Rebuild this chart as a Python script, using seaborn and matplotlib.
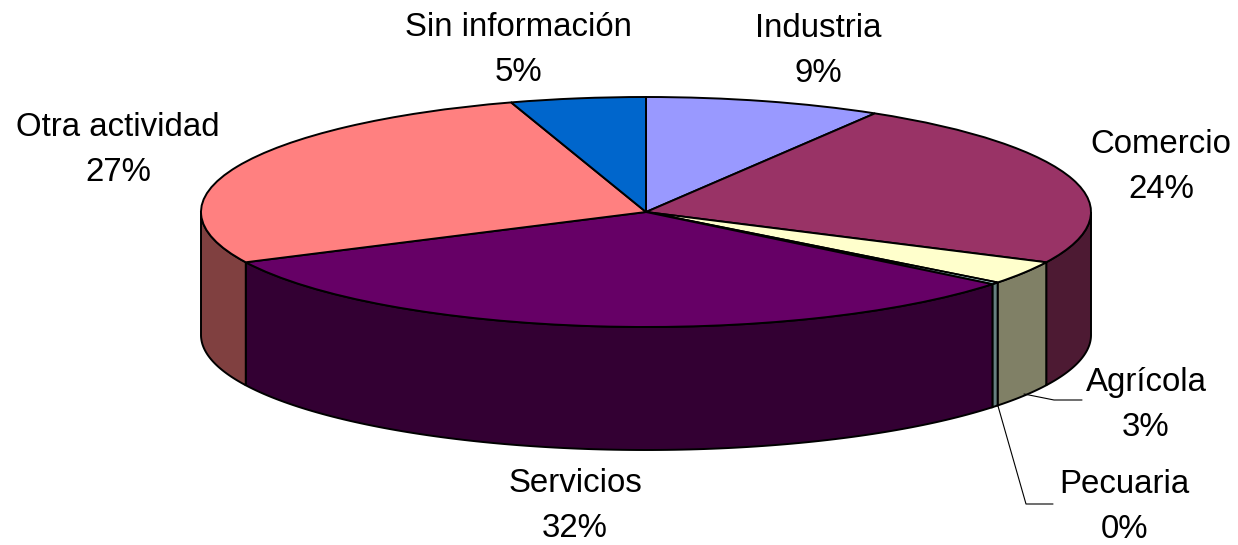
import numpy as np
import matplotlib
matplotlib.use("Agg")
import matplotlib.pyplot as plt
from matplotlib.transforms import Affine2D
import seaborn as sns

categories = ["Industria", "Comercio", "Agrícola", "Pecuaria", "Servicios", "Otra actividad", "Sin información"]
shares = [8.6, 23.6, 3.3, 0.3, 32.0, 27.3, 4.9]
top_colors = ["#9999FF", "#993366", "#FFFFCC", "#CCFFFF", "#660066", "#FF8080", "#0066CC"]

# layout, in reference pixels
W, H = 1238, 545
CX, CY, RX, RY, DEPTH = 646, 212, 445, 115, 123
label_xy = [(818, 51), (1161, 167), (1146, 405), (1124, 507), (575, 506), (118, 150), (518, 50)]
leaders = {"Agrícola": ([1024, 1054, 1082], [394, 400, 400]),
           "Pecuaria": ([998, 1026, 1053], [406, 504, 504])}

sns.set_theme(style="white", rc={"font.family": ["Liberation Sans", "DejaVu Sans"]})
palette = sns.color_palette(top_colors)
side_palette = [tuple(c * 0.5 for c in col) for col in palette]

fig = plt.figure(figsize=(W / 100, H / 100), dpi=100, facecolor="white")
ax = fig.add_axes([0, 0, 1, 1])

ax.pie(shares, colors=palette, startangle=90, counterclock=False, radius=1,
       wedgeprops=dict(edgecolor="black", linewidth=1.4))
ax.set_aspect("auto")
ax.set_xlim(-CX / RX, (W - CX) / RX)
ax.set_ylim((CY - H) / RY, CY / RY)
depth = DEPTH / RY

# side walls: visible on the front half only (90..270 deg clockwise from top)
edges = np.concatenate([[0], np.cumsum(shares)]) / np.sum(shares) * 360
for i, col in enumerate(side_palette):
    t0, t1 = max(edges[i], 90), min(edges[i + 1], 270)
    if t1 <= t0:
        continue
    t = np.radians(np.linspace(t0, t1, 120))
    x, y = np.sin(t), np.cos(t)
    ax.fill(np.r_[x, x[::-1]], np.r_[y, y[::-1] - depth], facecolor=col,
            edgecolor="black", linewidth=1.4, zorder=0.5)

px = Affine2D().scale(1, -1).translate(0, H)
for name, share, (lx, ly) in zip(categories, shares, label_xy):
    ax.text(lx, ly, f"{name}\n{round(share)}%", transform=px, ha="center", va="center",
            fontsize=23.8, color="black", linespacing=1.56)
for xs, ys in leaders.values():
    ax.plot(xs, ys, transform=px, color="black", linewidth=0.8, zorder=3)

fig.savefig("out.png", dpi=100)
